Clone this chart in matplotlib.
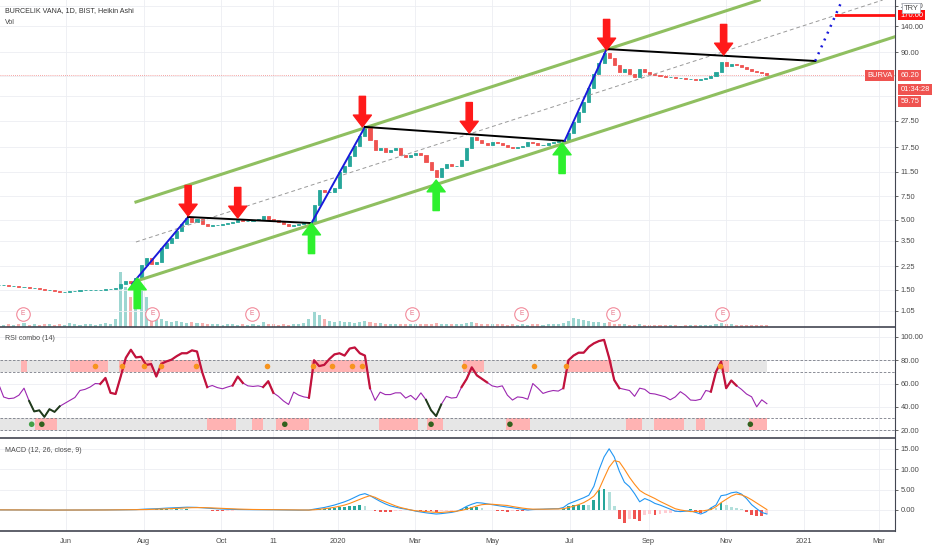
import numpy as np
import pandas as pd
import matplotlib
matplotlib.use("Agg")
import matplotlib.pyplot as plt
import matplotlib.dates as mdates
from matplotlib.ticker import NullLocator, NullFormatter
from matplotlib.transforms import blended_transform_factory

plt.rcParams['font.family'] = ['Liberation Sans', 'DejaVu Sans']

# BURVA, sampled every 4 calendar days (Heikin Ashi close)
start_date = "2019-04-09"
closes = [1.63, 1.63, 1.60, 1.60, 1.57, 1.57, 1.55, 1.55, 1.52, 1.50,
          1.50, 1.47, 1.45, 1.45, 1.47, 1.47, 1.50, 1.50, 1.50, 1.50,
          1.50, 1.52, 1.52, 1.55, 1.66, 1.74, 1.69, 1.84, 2.30, 2.60,
          2.35, 2.42, 3.09, 3.37, 3.66, 4.13, 4.66, 5.17, 4.83, 5.08,
          4.66, 4.50, 4.58, 4.58, 4.66, 4.74, 4.83, 4.99, 4.91, 4.91,
          4.99, 5.08, 5.35, 5.08, 4.99, 4.83, 4.66, 4.50, 4.58, 4.66,
          4.83, 4.83, 6.46, 8.37, 8.09, 8.09, 8.67, 11.4, 12.6, 15.0,
          17.8, 21.2, 24.3, 19.8, 16.7, 17.3, 16.1, 16.7, 17.3, 15.3,
          14.8, 15.3, 15.8, 15.3, 13.6, 11.8, 10.5, 12.2, 13.1, 12.6,
          12.6, 14.0, 17.3, 20.8, 19.8, 18.8, 18.2, 19.1, 18.8, 18.2,
          17.5, 17.3, 17.5, 17.8, 19.1, 18.8, 18.2, 18.2, 18.8, 19.1,
          19.5, 19.5, 22.3, 27.0, 32.0, 38.1, 48.4, 61.6, 74.5, 88.5,
          81.2, 72.0, 63.8, 67.2, 61.6, 58.5, 67.2, 63.8, 61.6, 60.6,
          59.5, 58.5, 58.5, 57.5, 57.5, 56.5, 56.5, 55.6, 56.5, 57.5,
          59.5, 63.8, 75.8, 70.7, 73.2, 72.0, 69.5, 67.2, 64.9, 63.8,
          62.7, 60.2]
volume_m = [0.3, 0.2, 0.3, 0.2, 0.3, 0.4, 0.2, 0.3, 0.2, 0.3,
            0.3, 0.2, 0.3, 0.2, 0.4, 0.3, 0.2, 0.3, 0.3, 0.2,
            0.3, 0.4, 0.3, 0.8, 5.5, 4.0, 3.0, 4.5, 3.6, 3.0,
            1.5, 1.0, 0.8, 0.6, 0.5, 0.6, 0.5, 0.4, 0.5, 0.4,
            0.4, 0.3, 0.3, 0.3, 0.2, 0.3, 0.3, 0.2, 0.3, 0.2,
            0.3, 0.2, 0.5, 0.3, 0.3, 0.2, 0.3, 0.2, 0.3, 0.3,
            0.4, 0.8, 1.5, 1.2, 0.8, 0.6, 0.5, 0.6, 0.5, 0.5,
            0.4, 0.5, 0.6, 0.5, 0.4, 0.4, 0.3, 0.3, 0.3, 0.3,
            0.3, 0.3, 0.3, 0.3, 0.3, 0.3, 0.4, 0.3, 0.3, 0.3,
            0.3, 0.3, 0.4, 0.5, 0.4, 0.3, 0.3, 0.3, 0.3, 0.3,
            0.2, 0.3, 0.2, 0.3, 0.2, 0.3, 0.3, 0.2, 0.3, 0.3,
            0.3, 0.4, 0.6, 0.9, 0.8, 0.7, 0.6, 0.5, 0.5, 0.4,
            0.5, 0.3, 0.3, 0.3, 0.2, 0.2, 0.3, 0.2, 0.2, 0.2,
            0.2, 0.2, 0.2, 0.2, 0.1, 0.2, 0.2, 0.2, 0.2, 0.2,
            0.2, 0.3, 0.4, 0.3, 0.3, 0.2, 0.2, 0.2, 0.2, 0.2,
            0.2, 0.2]
rsi = [59.7, 48.4, 47.0, 47.5, 50.0, 56.0, 45.0, 36.0, 37.0, 31.3,
       38.0, 35.6, 40.4, 43.0, 45.5, 48.0, 54.0, 55.0, 57.0, 60.0,
       59.7, 64.8, 52.0, 51.0, 66.0, 82.0, 89.0, 82.4, 83.0, 76.0,
       76.7, 66.0, 77.0, 79.0, 80.5, 83.5, 86.0, 86.0, 88.5, 87.5,
       70.0, 56.9, 58.3, 56.5, 55.5, 57.0, 58.3, 66.0, 60.5, 58.0,
       57.5, 58.0, 57.0, 62.0, 52.0, 49.0, 45.0, 42.0, 52.6, 50.0,
       48.5, 47.8, 80.0, 75.0, 76.0, 81.0, 85.0, 86.0, 84.0, 90.0,
       91.0, 86.0, 84.0, 56.0, 45.5, 52.6, 50.5, 50.5, 52.0, 52.0,
       47.5, 49.8, 46.0, 52.0, 46.0, 37.0, 32.0, 42.0, 49.0, 47.5,
       48.0, 57.0, 64.0, 73.9, 67.0, 64.0, 61.0, 58.0, 57.0, 58.0,
       50.0, 45.8, 48.5, 48.0, 46.5, 60.0, 56.0, 51.5, 53.0, 54.0,
       53.5, 56.0, 80.0, 84.0, 86.5, 86.5, 91.5, 94.5, 96.5, 97.5,
       82.0, 63.0, 56.0, 55.0, 54.0, 49.0, 56.0, 55.0, 51.5, 51.0,
       49.8, 48.6, 46.0, 48.5, 53.0, 50.0, 45.8, 45.5, 46.5, 54.0,
       53.0, 70.0, 79.0, 56.0, 62.6, 58.3, 55.0, 51.0, 48.6, 40.0,
       46.0, 42.7]
macd_line = [0.02, 0.02, 0.01, 0.01, 0.0, 0.0, -0.01, -0.01, -0.02, -0.02,
             -0.03, -0.03, -0.03, -0.03, -0.02, -0.02, -0.01, -0.01, 0.0, 0.0,
             0.0, 0.01, 0.01, 0.01, 0.03, 0.05, 0.06, 0.08, 0.15, 0.22,
             0.25, 0.3, 0.38, 0.45, 0.5, 0.56, 0.62, 0.68, 0.66, 0.63,
             0.55, 0.45, 0.36, 0.28, 0.22, 0.17, 0.13, 0.11, 0.09, 0.08,
             0.07, 0.07, 0.08, 0.07, 0.05, 0.03, 0.0, -0.03, -0.04, -0.04,
             -0.03, -0.02, 0.2, 0.4, 0.6, 0.9, 1.2, 1.6, 2.0, 2.5,
             3.1, 3.7, 4.0, 3.5, 2.8, 2.1, 1.5, 1.0, 0.7, 0.4,
             0.2, 0.0, -0.3, -0.5, -0.7, -0.85, -1.0, -0.9, -0.75, -0.6,
             -0.35, 0.2, 0.9, 1.4, 1.8, 1.7, 1.5, 1.3, 1.1, 0.9,
             0.7, 0.55, 0.35, 0.15, 0.0, 0.1, 0.15, 0.2, 0.25, 0.3,
             0.3, 0.6, 1.5, 2.0, 2.5, 3.0, 3.6, 5.8, 9.8, 13.0,
             15.0, 13.0, 9.5, 6.8, 5.7, 4.0, 2.0, 2.8, 2.3, 1.6,
             1.2, 0.7, 0.2, -0.3, -0.4, -0.3, -0.2, -0.6, -1.0, -0.5,
             0.5, 1.2, 3.5, 3.7, 4.2, 4.4, 3.9, 2.8, 1.3, 0.3,
             -0.6, -1.0]
signal_line = [0.02, 0.02, 0.02, 0.01, 0.01, 0.0, 0.0, -0.01, -0.01, -0.02,
               -0.02, -0.02, -0.03, -0.03, -0.03, -0.02, -0.02, -0.01, -0.01, 0.0,
               0.0, 0.0, 0.01, 0.01, 0.01, 0.02, 0.03, 0.04, 0.06, 0.1,
               0.14, 0.18, 0.23, 0.28, 0.34, 0.4, 0.46, 0.52, 0.56, 0.58,
               0.58, 0.55, 0.5, 0.44, 0.38, 0.32, 0.27, 0.22, 0.18, 0.15,
               0.12, 0.1, 0.09, 0.08, 0.07, 0.06, 0.05, 0.03, 0.01, 0.0,
               -0.01, -0.02, 0.05, 0.15, 0.3, 0.45, 0.65, 0.9, 1.2, 1.6,
               2.1, 2.6, 3.1, 3.5, 3.1, 2.5, 2.0, 1.5, 1.0, 0.6,
               0.3, 0.0, -0.2, -0.3, -0.4, -0.5, -0.6, -0.6, -0.5, -0.4,
               -0.3, -0.1, 0.2, 0.6, 1.0, 1.3, 1.4, 1.4, 1.3, 1.2,
               1.1, 0.85, 0.65, 0.45, 0.3, 0.2, 0.18, 0.18, 0.2, 0.22,
               0.25, 0.3, 0.6, 0.9, 1.3, 1.8, 2.5, 3.4, 5.0, 7.8,
               10.5, 12.1, 11.8, 10.0, 8.0, 6.3, 4.8, 4.0, 3.4, 2.8,
               2.1, 1.5, 0.9, 0.3, 0.0, -0.2, -0.4, -0.4, -0.3, -0.1,
               0.1, 0.8, 1.8, 2.6, 3.4, 3.9, 3.7, 3.2, 2.5, 1.7,
               0.9, 0.1]
last_price = 60.20
prev_close = 59.75

# drawn analysis: swing points, channel, arrows
swing_dates = ["2019-07-23", "2019-09-05", "2019-12-11", "2020-01-22",
               "2020-06-27", "2020-07-30", "2021-01-10"]
swing_prices = [1.66, 5.26, 4.74, 24.8, 19.5, 94.7, 77.1]
proj_dates = ["2021-01-10", "2021-01-26", "2021-02-03"]
proj_prices = [77.1, 170.0, 253.0]
target_price = 170.0
upper_dates = ["2019-07-26", "2020-11-27"]
upper_prices = [6.81, 220.0]
lower_dates = ["2019-07-29", "2021-03-13"]
lower_prices = [1.78, 116.5]
mid_dates = ["2019-07-26", "2021-03-04"]
mid_prices = [3.42, 220.0]
sell_dates = ["2019-09-05", "2019-10-14", "2020-01-20", "2020-04-13", "2020-07-30", "2020-10-30"]
sell_prices = [5.35, 5.17, 24.8, 22.3, 93.2, 85.5]
buy_dates = ["2019-07-27", "2019-12-11", "2020-03-18", "2020-06-25"]
buy_prices = [1.84, 4.74, 9.94, 18.8]
earn_dates = ["2019-04-28", "2019-08-08", "2019-10-25", "2020-02-28",
              "2020-05-24", "2020-08-04", "2020-10-29"]

# RSI combo zones
band_end = "2020-12-03"
ob_zones = [("2019-04-27", "2019-05-01"), ("2019-06-04", "2019-07-04"),
            ("2019-07-13", "2019-08-08"), ("2019-08-14", "2019-09-14"),
            ("2019-12-11", "2020-01-23"), ("2020-04-08", "2020-04-25"),
            ("2020-06-28", "2020-08-03"), ("2020-10-29", "2020-11-03")]
os_zones = [("2019-05-08", "2019-05-25"), ("2019-09-20", "2019-10-13"),
            ("2019-10-25", "2019-11-03"), ("2019-11-13", "2019-12-09"),
            ("2020-02-02", "2020-03-04"), ("2020-03-11", "2020-03-23"),
            ("2020-05-12", "2020-05-31"), ("2020-08-14", "2020-08-27"),
            ("2020-09-05", "2020-09-29"), ("2020-10-08", "2020-10-15"),
            ("2020-11-19", "2020-12-03")]
ob_dots = ["2019-06-24", "2019-07-15", "2019-08-01", "2019-08-15", "2019-09-11",
           "2019-11-06", "2019-12-12", "2019-12-27", "2020-01-12", "2020-01-20",
           "2020-04-09", "2020-06-03", "2020-06-28", "2020-10-27"]
os_dots = ["2019-05-05", "2019-05-13", "2019-11-20", "2020-03-14", "2020-05-15", "2020-11-20"]

tick_dates = ["2019-06-01", "2019-08-01", "2019-10-01", "2019-11-11", "2020-01-01", "2020-03-01",
              "2020-05-01", "2020-07-01", "2020-09-01", "2020-11-01", "2021-01-01", "2021-03-01"]
tick_labels = ["Jun", "Aug", "Oct", "11", "2020", "Mar", "May", "Jul", "Sep", "Nov", "2021", "Mar"]
price_ticks = [1.05, 1.50, 2.25, 3.50, 5.00, 7.50, 11.50, 17.50, 27.50, 90.00, 140.00, 200.00]


def dn(d):
    return mdates.date2num(pd.to_datetime(d))


UP, DOWN = '#26a69a', '#ef5350'
GRID = '#eceef2'
AXC = '#4a4a4a'
FS = 5.4

t = mdates.date2num(pd.date_range(start_date, periods=len(closes), freq="4D").to_pydatetime())
c = np.array(closes)
# each bar opens where the previous one closed
o = np.concatenate([[c[0]], c[:-1]])
up = c >= o
cols = np.where(up, UP, DOWN)

fig = plt.figure(figsize=(9.32, 5.5), dpi=100)
W = 895 / 932
ax_p = fig.add_axes([0, 1 - 327 / 550, W, 327 / 550])
ax_r = fig.add_axes([0, 1 - 438 / 550, W, 110 / 550], sharex=ax_p)
ax_m = fig.add_axes([0, 1 - 531 / 550, W, 92 / 550], sharex=ax_p)

# volume sits on a hidden twin of the price pane
ax_v = ax_p.twinx()
ax_v.set_zorder(ax_p.get_zorder() - 1)
ax_p.patch.set_visible(False)

x0 = dn("2019-06-01") - 66 / 1.272
x1 = dn("2019-06-01") + 829 / 1.272

for ax in (ax_p, ax_r, ax_m):
    ax.set_xlim(x0, x1)
    ax.yaxis.tick_right()
    ax.yaxis.set_label_position('right')
    ax.spines['top'].set_visible(False)
    ax.spines['left'].set_visible(False)
    ax.spines['right'].set_color('#434651')
    ax.spines['right'].set_linewidth(0.8)
    ax.spines['bottom'].set_color('#434651')
    ax.spines['bottom'].set_linewidth(1.2)
    ax.tick_params(axis='y', which='major', length=2, pad=2, labelsize=FS,
                   colors=AXC, width=0.6, left=False, labelleft=False,
                   right=True, labelright=True)
    ax.tick_params(axis='x', length=0, labelbottom=False)
    ax.set_xticks([dn(d) for d in tick_dates])
    ax.grid(True, which='both', color=GRID, lw=0.6)
    ax.set_axisbelow(True)

# ---- price pane ----
ax_v.bar(t, volume_m, width=2.4, color=cols, alpha=0.45, linewidth=0)
ax_v.set_ylim(0, 32.7)
ax_v.set_yticks([])
ax_v.tick_params(axis='y', right=False, labelright=False, left=False, labelleft=False)
for s in ax_v.spines.values():
    s.set_visible(False)

ax_p.set_yscale('log')
ax_p.set_ylim(0.792, 220.3)
ax_p.set_yticks(price_ticks)
ax_p.set_yticklabels([f"{v:.2f}" for v in price_ticks])
ax_p.yaxis.set_minor_locator(NullLocator())
ax_p.set_yticks([42.5, 60.0], minor=True)
ax_p.yaxis.set_minor_formatter(NullFormatter())
ax_p.tick_params(axis='y', which='minor', length=0)

lo = np.minimum(o, c)
hi = np.maximum(o, c)
ax_p.bar(t, hi - lo, bottom=lo, width=2.4, color=cols, edgecolor=cols, linewidth=0.6, zorder=3)

ax_p.axhline(last_price, color=DOWN, ls=(0, (1, 1.5)), lw=0.6, alpha=0.7, zorder=2)

sd = [dn(d) for d in swing_dates]
for k in range(len(sd) - 1):
    color = '#1a1adb' if k % 2 == 0 else 'black'
    ax_p.plot(sd[k:k + 2], swing_prices[k:k + 2], color=color, lw=1.4, zorder=5)
ax_p.plot([dn(d) for d in proj_dates], proj_prices, color='#1a1adb', lw=1.8,
          ls=(0, (0.8, 2.2)), zorder=5)
ax_p.plot([dn(proj_dates[1]), x1], [target_price, target_price], color='#ff1010', lw=2, zorder=5)

green = '#8fbf60'
ax_p.plot([dn(d) for d in upper_dates], upper_prices, color=green, lw=2.2, zorder=4)
ax_p.plot([dn(d) for d in lower_dates], lower_prices, color=green, lw=2.2, zorder=4)
ax_p.plot([dn(d) for d in mid_dates], mid_prices, color='#9a9a9a', lw=0.7,
          ls=(0, (4, 3)), zorder=4)

arrow_style = "simple,head_width=13,head_length=8.5,tail_width=4.5"
for d, p in zip(sell_dates, sell_prices):
    ax_p.annotate("", xy=(dn(d), p), xytext=(0, 22), textcoords="offset points",
                  arrowprops=dict(arrowstyle=arrow_style, mutation_scale=1, color='#ff1a1a',
                                  shrinkA=0, shrinkB=0), zorder=6)
for d, p in zip(buy_dates, buy_prices):
    ax_p.annotate("", xy=(dn(d), p), xytext=(0, -22), textcoords="offset points",
                  arrowprops=dict(arrowstyle=arrow_style, mutation_scale=1, color='#2ef02e',
                                  shrinkA=0, shrinkB=0), zorder=6)

eb = blended_transform_factory(ax_p.transData, ax_p.transAxes)
for d in earn_dates:
    ax_p.scatter([dn(d)], [0.04], s=95, facecolor='white', edgecolor='#f28b9b',
                 linewidth=0.8, transform=eb, zorder=6, clip_on=False)
    ax_p.text(dn(d), 0.04, "E", transform=eb, ha='center', va='center',
              fontsize=4.8, color='#e57388', zorder=7)

# right-axis labels
yb = blended_transform_factory(ax_p.transAxes, ax_p.transData)
box = dict(boxstyle='square,pad=0.25', fc='#ef5350', ec='none')
ax_p.text(1.006, last_price, f"{last_price:.2f}", transform=yb, fontsize=FS, color='white',
          va='center', ha='left', bbox=box, zorder=10, clip_on=False)
ax_p.text(0.997, last_price, "BURVA", transform=yb, fontsize=FS, color='white',
          va='center', ha='right', bbox=box, zorder=10, clip_on=False)
ax_p.annotate("01:34:28", xy=(1.006, last_price), xycoords=yb, xytext=(0, -10),
              textcoords='offset points', fontsize=FS, color='white', va='center', ha='left',
              bbox=box, zorder=10, annotation_clip=False)
ax_p.annotate(f"{prev_close:.2f}", xy=(1.006, last_price), xycoords=yb, xytext=(0, -19),
              textcoords='offset points', fontsize=FS, color='white', va='center', ha='left',
              bbox=box, zorder=10, annotation_clip=False)
ax_p.text(1.006, target_price, f"{target_price:.2f}", transform=yb, fontsize=FS, color='white',
          va='center', ha='left', bbox=dict(boxstyle='square,pad=0.25', fc='#ff1010', ec='none'),
          zorder=10, clip_on=False)
fig.text(911 / 932, 1 - 8 / 550, "TRY", fontsize=FS, color=AXC, ha='center', va='center',
         bbox=dict(boxstyle='square,pad=0.25', fc='white', ec='#b0b3bb', lw=0.6), zorder=20)

fig.text(5 / 932, 1 - 11 / 550, "BURCELIK VANA, 1D, BIST, Heikin Ashi", fontsize=5.1,
         color='#333333', va='center')
fig.text(5 / 932, 1 - 23 / 550, "Vol", fontsize=5.1, color=AXC, va='center')

# ---- RSI pane ----
ax_r.set_ylim(13.2, 107.7)
ax_r.set_yticks([20, 40, 60, 80, 100])
ax_r.set_yticklabels([f"{v:.2f}" for v in [20, 40, 60, 80, 100]])
tb0, tb1 = t[0], dn(band_end)
ax_r.fill_between([tb0, tb1], 70, 80, color='#e6e6e6', lw=0, zorder=1)
ax_r.fill_between([tb0, tb1], 20, 30, color='#e6e6e6', lw=0, zorder=1)
for a, b in ob_zones:
    ax_r.fill_between([dn(a), dn(b)], 70, 80, color='#ffb3b3', lw=0, zorder=1.5)
for a, b in os_zones:
    ax_r.fill_between([dn(a), dn(b)], 20, 30, color='#ffb3b3', lw=0, zorder=1.5)
for lvl in (80, 70, 30, 20):
    ax_r.axhline(lvl, color='#787b86', lw=0.6, ls=(0, (3, 2)), zorder=2)

r = np.array(rsi)
ax_r.plot(t, r, color='#9c27b0', lw=0.8, zorder=3)
hot = r >= 62
hot = hot | np.roll(hot, 1) | np.roll(hot, -1)
ax_r.plot(t, np.where(hot, r, np.nan), color='#c2133c', lw=1.6, zorder=4)
cold = r < 39
cold = cold | np.roll(cold, 1) | np.roll(cold, -1)
ax_r.plot(t, np.where(cold, r, np.nan), color='#1f3d1a', lw=1.4, zorder=4)
ax_r.scatter([dn(d) for d in ob_dots], [75] * len(ob_dots), s=16, color='#f7941d', zorder=5, lw=0)
ax_r.scatter([dn(d) for d in os_dots], [25] * len(os_dots), s=16,
             color=['#43a047'] + ['#33611e'] * (len(os_dots) - 1), zorder=5, lw=0)
ax_r.text(5 / 895, 1 - 11 / 110, "RSI combo (14)", transform=ax_r.transAxes, fontsize=5.1,
          color=AXC, va='center')

# ---- MACD pane ----
ax_m.set_ylim(-5.16, 17.4)
ax_m.set_yticks([0, 5, 10, 15])
ax_m.set_yticklabels([f"{v:.2f}" for v in [0, 5, 10, 15]])
ml = np.array(macd_line)
sl = np.array(signal_line)
hist = ml - sl
prev = np.concatenate([[hist[0]], hist[:-1]])
hcol = np.where(hist >= 0, np.where(hist >= prev, '#26a69a', '#b2dfdb'),
                np.where(hist <= prev, '#ef5350', '#ffcdd2'))
ax_m.bar(t, hist, width=2.2, color=hcol, linewidth=0, zorder=2)
ax_m.plot(t, ml, color='#2196f3', lw=0.8, zorder=3)
ax_m.plot(t, sl, color='#ff8c1a', lw=0.8, zorder=3)
ax_m.text(5 / 895, 1 - 12 / 92, "MACD (12, 26, close, 9)", transform=ax_m.transAxes,
          fontsize=5.1, color=AXC, va='center')
ax_m.tick_params(axis='x', labelbottom=True, labelsize=5.3, colors=AXC, pad=5)
ax_m.set_xticklabels(tick_labels)

fig.savefig("out.png", dpi=100)
